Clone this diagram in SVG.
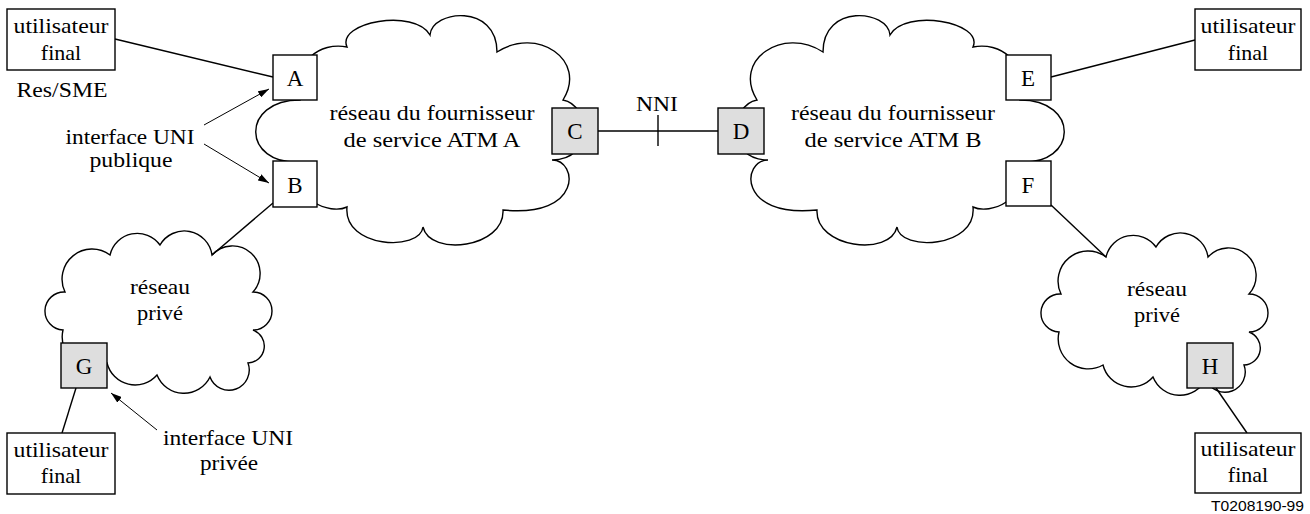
<svg xmlns="http://www.w3.org/2000/svg" width="1310" height="514" viewBox="0 0 1310 514">
<style>
.cloud{fill:#fff;stroke:#000;stroke-width:1.4}
.box{fill:#fff;stroke:#000;stroke-width:1.4}
.grey{fill:#dedede;stroke:#000;stroke-width:1.4}
.t{font-family:"Liberation Serif","Times New Roman",serif;font-size:22px;fill:#000;text-anchor:middle}
.L{font-size:23px}
.ref{font-family:"Liberation Sans",Arial,sans-serif;font-size:15px;fill:#000;text-anchor:end}
.conn{stroke:#000;stroke-width:1.4;fill:none}
.arr{stroke:#000;stroke-width:1;fill:none;marker-end:url(#ah)}
</style>
<defs>
<marker id="ah" markerUnits="userSpaceOnUse" markerWidth="11" markerHeight="7" refX="11" refY="3.5" orient="auto">
<path d="M0,0 L11,3.5 L0,7 z" fill="#000"/>
</marker>
<path id="bigcloud" d="M300 162 C242 165 240 100 300 100 C293 60 320 42 347 47 C336 22 415 8 430 35 C432 10 497 3 497 52 C537 26 588 60 563 100 C590 105 595 160 552 160 C578 160 583 218 503 210 C505 248 430 257 423 227 C420 252 343 248 347 207 C330 215 290 200 300 162 Z"/>
<path id="smallcloud" d="M110 255 A28 28 0 0 1 160 245 A28 28 0 0 1 212 255 A27 27 0 0 1 253 292 A19 19 0 0 1 253 330 A17 17 0 0 1 248 363 A20 20 0 0 1 210 377 A29 29 0 0 1 157 375 A29 29 0 0 1 107 363 A30 30 0 0 1 63 330 A19 19 0 0 1 65 292 A30 30 0 0 1 110 255 Z"/>
</defs>

<g id="cloudA">
<use href="#bigcloud" class="cloud"/>
<text class="t" x="432" y="120" textLength="205" lengthAdjust="spacingAndGlyphs">réseau du fournisseur</text>
<text class="t" x="432" y="147" textLength="177" lengthAdjust="spacingAndGlyphs">de service ATM A</text>
</g>
<g id="cloudB">
<use href="#bigcloud" class="cloud" transform="matrix(-1,0,0,1,1320,0)"/>
<text class="t" x="893" y="120" textLength="204" lengthAdjust="spacingAndGlyphs">réseau du fournisseur</text>
<text class="t" x="893" y="147" textLength="177" lengthAdjust="spacingAndGlyphs">de service ATM B</text>
</g>
<g id="cloudPrivL">
<use href="#smallcloud" class="cloud"/>
<text class="t" x="160" y="294" textLength="60" lengthAdjust="spacingAndGlyphs">réseau</text>
<text class="t" x="160" y="320" textLength="46" lengthAdjust="spacingAndGlyphs">privé</text>
</g>
<g id="cloudPrivR">
<use href="#smallcloud" class="cloud" transform="translate(996,2)"/>
<text class="t" x="1157" y="296" textLength="60" lengthAdjust="spacingAndGlyphs">réseau</text>
<text class="t" x="1157" y="322" textLength="46" lengthAdjust="spacingAndGlyphs">privé</text>
</g>

<g id="connectors">
<line class="conn" x1="115" y1="39" x2="273" y2="77"/>
<line class="conn" x1="273" y1="203" x2="212" y2="255"/>
<line class="conn" x1="598" y1="131" x2="718" y2="131"/>
<line class="conn" x1="658" y1="115" x2="658" y2="146" stroke-width="2"/>
<line class="conn" x1="1051" y1="77" x2="1195" y2="40"/>
<line class="conn" x1="1051" y1="205" x2="1106" y2="257"/>
<line class="conn" x1="76" y1="388" x2="62" y2="433"/>
<line class="conn" x1="1216" y1="388" x2="1247" y2="433"/>
<line class="arr" x1="204" y1="125" x2="269" y2="89"/>
<line class="arr" x1="204" y1="144" x2="269" y2="183"/>
<line class="arr" x1="157" y1="430" x2="111" y2="393"/>
</g>

<g id="userTL">
<rect class="box" x="7" y="9" width="108" height="61"/>
<text class="t" x="61" y="33" textLength="95" lengthAdjust="spacingAndGlyphs">utilisateur</text>
<text class="t" x="61" y="60">final</text>
</g>
<g id="labelResSME"><text class="t" x="62" y="97" textLength="91" lengthAdjust="spacingAndGlyphs">Res/SME</text></g>
<g id="labelUNIpub">
<text class="t" x="130" y="144" textLength="129" lengthAdjust="spacingAndGlyphs">interface UNI</text>
<text class="t" x="131" y="167" textLength="83" lengthAdjust="spacingAndGlyphs">publique</text>
</g>
<g id="boxA"><rect class="box" x="273" y="55" width="44" height="45"/><text class="t L" x="295" y="86">A</text></g>
<g id="boxB"><rect class="box" x="273" y="161" width="44" height="46"/><text class="t L" x="295" y="193">B</text></g>
<g id="boxC"><rect class="grey" x="552" y="108" width="46" height="46"/><text class="t L" x="575" y="139">C</text></g>
<g id="labelNNI"><text class="t" x="657" y="111" textLength="42" lengthAdjust="spacingAndGlyphs">NNI</text></g>
<g id="boxD"><rect class="grey" x="718" y="108" width="46" height="46"/><text class="t L" x="741" y="139">D</text></g>
<g id="boxE"><rect class="box" x="1006" y="55" width="45" height="45"/><text class="t L" x="1028" y="86">E</text></g>
<g id="boxF"><rect class="box" x="1006" y="161" width="45" height="45"/><text class="t L" x="1028" y="193">F</text></g>
<g id="userTR">
<rect class="box" x="1195" y="9" width="106" height="61"/>
<text class="t" x="1248" y="33" textLength="95" lengthAdjust="spacingAndGlyphs">utilisateur</text>
<text class="t" x="1248" y="60">final</text>
</g>
<g id="boxG"><rect class="grey" x="61" y="343" width="46" height="45"/><text class="t L" x="84" y="374">G</text></g>
<g id="userBL">
<rect class="box" x="7" y="433" width="108" height="61"/>
<text class="t" x="61" y="457" textLength="95" lengthAdjust="spacingAndGlyphs">utilisateur</text>
<text class="t" x="61" y="483">final</text>
</g>
<g id="labelUNIpriv">
<text class="t" x="228" y="445" textLength="130" lengthAdjust="spacingAndGlyphs">interface UNI</text>
<text class="t" x="229" y="470" textLength="58" lengthAdjust="spacingAndGlyphs">privée</text>
</g>
<g id="boxH"><rect class="grey" x="1187" y="343" width="46" height="45"/><text class="t L" x="1210" y="374">H</text></g>
<g id="userBR">
<rect class="box" x="1195" y="433" width="106" height="60"/>
<text class="t" x="1248" y="456" textLength="95" lengthAdjust="spacingAndGlyphs">utilisateur</text>
<text class="t" x="1248" y="482">final</text>
</g>
<text class="ref" x="1304" y="511" textLength="93" lengthAdjust="spacingAndGlyphs">T0208190-99</text>
</svg>
